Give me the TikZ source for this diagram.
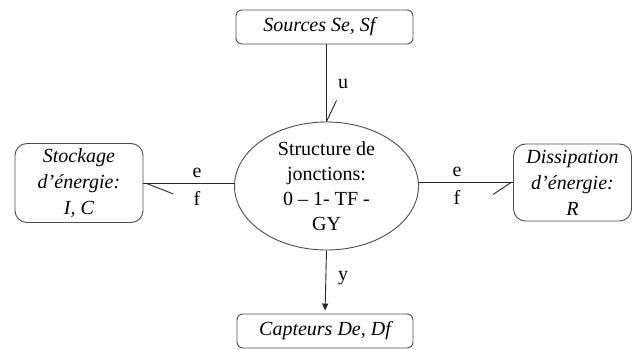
\documentclass[tikz,border=0pt]{standalone}
\usepackage{fontspec}
\setmainfont{Liberation Serif}
\usetikzlibrary{shapes.geometric,arrows.meta}
\begin{document}
\begin{tikzpicture}[x=1pt,y=1pt,
  box/.style={draw=black!70, line width=0.9pt, rounded corners=8pt, inner sep=0pt, align=center,
    font=\fontsize{20}{26}\selectfont\itshape},
  junc/.style={ellipse, draw=black!70, line width=0.9pt, inner sep=0pt, align=center,
    font=\fontsize{20}{25}\selectfont},
  conn/.style={draw=black!85, line width=0.9pt},
  lbl/.style={font=\fontsize{20}{24}\selectfont, inner sep=0pt}]
\useasboundingbox (0,0) rectangle (632,349);
\node[box, minimum width=177, minimum height=34, rounded corners=6pt] (src) at (324.5,322) {Sources Se, Sf\hspace{10pt}};
\node[junc, minimum width=184, minimum height=128] (ell) at (326.5,163) {Structure de\\jonctions:\\0 – 1- TF -\\GY};
\node[box, minimum width=128, minimum height=79, rounded corners=12pt] (sto) at (79,166) {Stockage\\d’énergie:\\I, C};
\node[box, minimum width=118, minimum height=77, rounded corners=12pt] (dis) at (572.5,166.5) {Dissipation\\d’énergie:\\R};
\node[box, minimum width=176, minimum height=34, rounded corners=6pt] (cap) at (325,18) {Capteurs De, Df};
% top bond
\draw[conn] (ell.north |- src.south) -- (ell.north);
\draw[conn] (ell.north) -- ++(10,21);
% left bond
\draw[conn] (sto.east) -- (ell.west |- sto.east);
\draw[conn] (sto.east) ++(2,0) -- ++(28,-11);
% right bond
\draw[conn] (ell.east |- dis.west) -- (dis.west);
\draw[conn] (dis.west) ++(-2,0) -- ++(-18,-12);
% bottom signal
\draw[conn, -{Triangle[length=7pt,width=6pt]}, shorten >=3pt] (ell.south) -- (cap.north);
% labels
\node[lbl] (u) at (343,265) {u};
\node[lbl] (y) at (343,71) {y};
\node[lbl] (le) at (197,176) {e};
\node[lbl] (lf) at (197,151) {f};
\node[lbl] (re) at (457,177) {e};
\node[lbl] (rf) at (457,152) {f};
\end{tikzpicture}
\end{document}
